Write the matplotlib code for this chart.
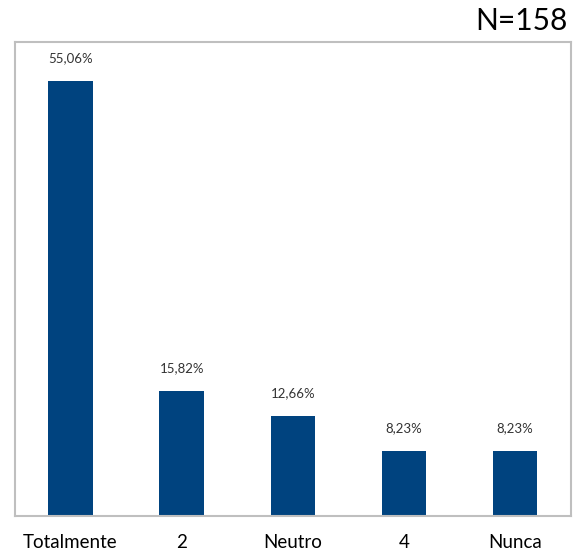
import matplotlib.pyplot as plt

categories = ["Totalmente", "2", "Neutro", "4", "Nunca"]
values = [55.06, 15.82, 12.66, 8.23, 8.23]
value_labels = ["55,06%", "15,82%", "12,66%", "8,23%", "8,23%"]
title = "N=158"

plt.rcParams['font.family'] = ['Lato', 'DejaVu Sans']

fig = plt.figure(figsize=(5.73, 5.53), dpi=100)
ax = fig.add_axes([0.026, 0.067, 0.97, 0.857])

x = range(len(categories))
ax.bar(x, values, width=0.4, color="#00437F")
for xi, v, lab in zip(x, values, value_labels):
    ax.text(xi, v + 2.1, lab, ha="center", va="bottom", fontsize=9.5, color="#333333")

ax.set_xlim(-0.5, len(categories) - 0.5)
ax.set_ylim(0, 60)
ax.set_yticks([])
ax.set_xticks(list(x))
ax.set_xticklabels(categories, fontsize=13.5)
ax.tick_params(axis="x", length=0, pad=13)
for s in ax.spines.values():
    s.set_color("#BFBFBF")
    s.set_linewidth(1.5)

fig.text(0.99, 0.962, title, ha="right", va="center", fontsize=21.5)

fig.savefig("out.png", dpi=100)
